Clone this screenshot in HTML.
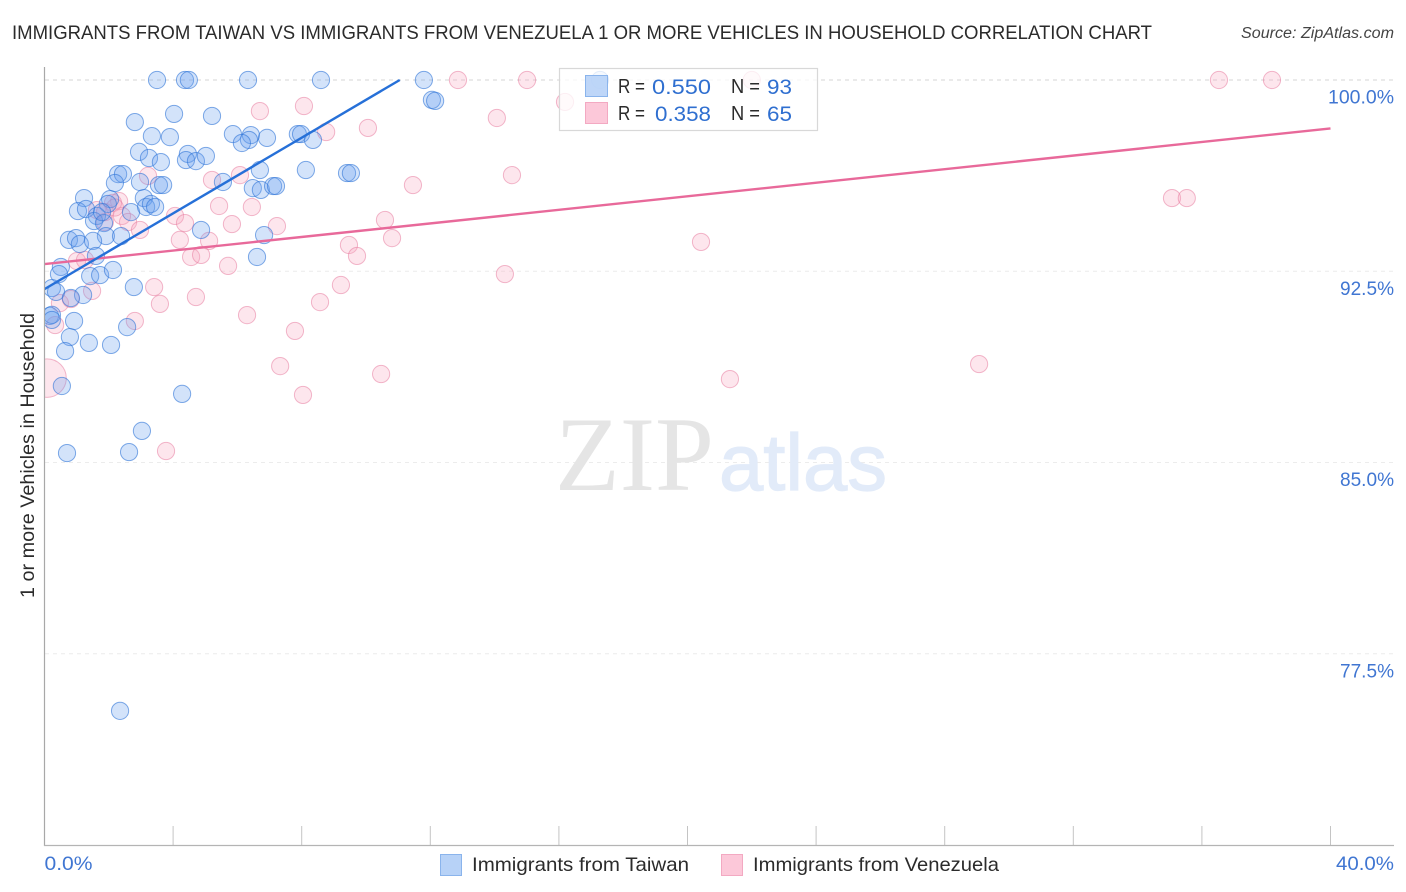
<!DOCTYPE html>
<html lang="en">
<head>
<meta charset="utf-8">
<title>Immigrants from Taiwan vs Immigrants from Venezuela 1 or more Vehicles in Household Correlation Chart</title>
<style>
html,body{margin:0;padding:0;background:#fff;width:1406px;height:892px;overflow:hidden}
svg{display:block;font-family:"Liberation Sans",sans-serif}
.tick-label{font-size:19px;fill:#4076d2}
.legend-text{font-size:20px;fill:#2b2b2b}
.legend-val{font-size:21.5px;fill:#2f6fd0}
.bottom-text{font-size:19.5px;fill:#2b2b2b}
</style>
</head>
<body>
<svg id="chart" xmlns="http://www.w3.org/2000/svg" width="1406" height="892" viewBox="0 0 1406 892">
  <defs>
    <clipPath id="plot-clip"><rect x="45" y="60" width="1350" height="786"></rect></clipPath>
    <filter id="soft" x="-5%" y="-5%" width="110%" height="110%"><feGaussianBlur stdDeviation="0.3"></feGaussianBlur></filter>
  </defs>
  <text x="12" y="39" font-size="19.5" fill="#2b2b2b" textLength="1140" lengthAdjust="spacingAndGlyphs">IMMIGRANTS FROM TAIWAN VS IMMIGRANTS FROM VENEZUELA 1 OR MORE VEHICLES IN HOUSEHOLD CORRELATION CHART</text>
  <text x="1394" y="38" font-size="15.5" font-style="italic" fill="#444" text-anchor="end" textLength="153" lengthAdjust="spacingAndGlyphs">Source: ZipAtlas.com</text>

  <g id="grid"></g>

  <g>
    <text x="555" y="490" font-family="'Liberation Serif',serif" font-size="106" fill="#e5e5e5" textLength="159" lengthAdjust="spacingAndGlyphs">ZIP</text>
    <text x="719" y="490" font-size="80" fill="#e2ebf9" stroke="#e2ebf9" stroke-width="1.2" textLength="168" lengthAdjust="spacingAndGlyphs">atlas</text>
  </g>

  <g clip-path="url(#plot-clip)">
    <g id="points-venezuela" filter="url(#soft)"></g>
    <g id="points-taiwan" filter="url(#soft)"></g>
  </g>
  <g id="trends"></g>

  <g id="axes"></g>
  <g id="tick-labels"></g>

  <text transform="translate(34,598) rotate(-90)" font-size="19.5" fill="#2b2b2b" textLength="285" lengthAdjust="spacingAndGlyphs">1 or more Vehicles in Household</text>

  <g>
    <rect x="559.5" y="68.5" width="258" height="62" fill="#fff" fill-opacity="0.78" stroke="#d8d8d8" stroke-width="1.2"></rect>
    <rect x="585.5" y="75.5" width="22" height="21" fill="#b7d2f7" fill-opacity="0.9" stroke="#8ab4ec"></rect>
    <rect x="585.5" y="102.5" width="22" height="21" fill="#fcc8d9" stroke="#f3a9c2"></rect>
    <text class="legend-text" x="618" y="93" textLength="27" lengthAdjust="spacingAndGlyphs">R =</text>
    <text class="legend-val" x="652" y="94" textLength="59" lengthAdjust="spacingAndGlyphs">0.550</text>
    <text class="legend-text" x="731" y="93" textLength="29" lengthAdjust="spacingAndGlyphs">N =</text>
    <text class="legend-val" x="767" y="94" textLength="25" lengthAdjust="spacingAndGlyphs">93</text>
    <text class="legend-text" x="618" y="120" textLength="27" lengthAdjust="spacingAndGlyphs">R =</text>
    <text class="legend-val" x="655" y="121" textLength="56" lengthAdjust="spacingAndGlyphs">0.358</text>
    <text class="legend-text" x="731" y="120" textLength="29" lengthAdjust="spacingAndGlyphs">N =</text>
    <text class="legend-val" x="767" y="121" textLength="25" lengthAdjust="spacingAndGlyphs">65</text>
  </g>

  <g>
    <rect x="440.5" y="854.5" width="21" height="21" fill="#b7d2f7" stroke="#8ab4ec"></rect>
    <text class="bottom-text" x="472" y="871" textLength="217" lengthAdjust="spacingAndGlyphs">Immigrants from Taiwan</text>
    <rect x="721.5" y="854.5" width="21" height="21" fill="#fcc8d9" stroke="#f3a9c2"></rect>
    <text class="bottom-text" x="753" y="871" textLength="246" lengthAdjust="spacingAndGlyphs">Immigrants from Venezuela</text>
  </g>
</svg>

<script>
const yTickValues = [100, 92.5, 85, 77.5];
const yTickLabels = ["100.0%", "92.5%", "85.0%", "77.5%"];
const xTickValues = [0, 4, 8, 12, 16, 20, 24, 28, 32, 36, 40];
const xEndValues = [0, 40];
const xEndLabels = ["0.0%", "40.0%"];

const taiwanX = [3.50,4.37,4.49,6.33,8.60,11.80,4.03,2.81,5.21,5.86,6.42,6.36,6.14,6.92,7.88,7.98,8.35,3.34,3.90,2.94,3.25,3.62,4.46,4.40,4.71,5.02,2.29,2.44,2.19,2.97,3.56,3.69,5.55,6.70,8.13,9.41,9.53,6.48,6.73,7.11,7.20,1.23,1.04,1.29,2.04,1.97,1.63,1.54,1.85,2.69,3.09,3.16,3.31,3.44,1.91,2.38,4.87,6.83,0.76,0.98,1.10,1.51,1.60,6.61,0.51,0.45,1.42,1.73,2.13,2.78,0.23,0.36,1.20,0.82,0.17,0.23,0.23,0.92,0.79,0.64,1.38,2.07,2.57,0.54,4.28,3.03,0.70,2.63,2.35,12.05,12.15,1.79,17.28];
const taiwanY = [100,100,100,100,100,100,98.67,98.35,98.59,97.88,97.84,97.65,97.53,97.73,97.88,97.88,97.65,97.80,97.76,97.18,96.94,96.78,97.10,96.86,96.82,97.02,96.31,96.31,95.96,96.00,95.88,95.88,96.00,96.47,96.47,96.35,96.35,95.76,95.69,95.84,95.84,95.37,94.86,94.94,95.33,95.14,94.67,94.47,94.39,94.82,95.37,95.02,95.14,95.02,93.88,93.88,94.12,93.92,93.73,93.80,93.57,93.69,93.10,93.06,92.67,92.39,92.31,92.35,92.55,91.88,91.84,91.69,91.57,91.45,90.75,90.79,90.59,90.55,89.92,89.37,89.69,89.61,90.31,88.00,87.69,86.24,85.37,85.41,75.26,99.22,99.18,94.82,100];

const venezuelaX = [0.08,12.86,15.01,22.00,36.53,38.18,6.70,8.07,8.76,10.06,14.07,16.19,5.21,6.08,3.22,5.43,6.45,2.32,2.13,1.63,1.88,2.41,2.60,2.97,4.06,4.37,5.83,7.23,4.21,5.12,4.56,4.87,5.71,1.01,1.26,1.48,0.48,0.82,3.41,3.59,4.71,6.30,7.79,8.57,9.22,2.81,0.33,7.33,8.04,3.78,9.47,9.72,10.59,10.81,11.46,14.54,14.32,20.42,21.32,29.07,10.47,35.07,35.53,1.88,2.19];
const venezuelaY = [88.31,100,100,100,100,100,98.78,98.98,97.96,98.12,98.51,99.14,96.08,96.27,96.24,95.06,95.02,95.25,95.18,94.90,94.43,94.67,94.43,94.12,94.67,94.39,94.35,94.27,93.73,93.69,93.06,93.14,92.71,92.90,92.94,91.73,91.25,91.41,91.88,91.22,91.49,90.78,90.16,91.29,91.96,90.55,90.39,88.78,87.65,85.45,93.53,93.10,94.51,93.80,95.88,96.27,92.39,93.65,88.27,88.86,88.47,95.37,95.37,94.82,95.00];
const venezuelaWeights = [5];

const taiwanTrendX = [0, 11.05];
const taiwanTrendY = [91.8, 100];
const venezuelaTrendX = [0, 40];
const venezuelaTrendY = [92.78, 98.1];

const NS = "http://www.w3.org/2000/svg";
function xScale(v) { return 44.5 + v * 32.15; }
function yScale(v) { return 80 + (100 - v) * 25.5; }
function make(tag, parentId) {
  const el = document.createElementNS(NS, tag);
  document.getElementById(parentId).appendChild(el);
  return el;
}

yTickValues.forEach(function (v, i) {
  const line = make("line", "grid");
  
  
  line.setAttribute("x1", 45);
  line.setAttribute("x2", 1393);
  line.setAttribute("y1", yScale(v));
  line.setAttribute("y2", yScale(v));
  line.setAttribute("stroke", i === 0 ? "#d4d4d4" : "#ececec");
  line.setAttribute("stroke-width", 1);
  line.setAttribute("stroke-dasharray", "4 4");

  const label = make("text", "tick-labels");
  
  
  label.setAttribute("class", "tick-label");
  label.setAttribute("x", 1394);
  label.setAttribute("y", yScale(v) + 23.5);
  label.setAttribute("text-anchor", "end");
  label.setAttribute("textLength", yTickLabels[i].length === 6 ? 66 : 54);
  label.setAttribute("lengthAdjust", "spacingAndGlyphs");
  label.textContent = yTickLabels[i];
});

xTickValues.forEach(function (v) {
  const tick = make("line", "axes");
  
  
  tick.setAttribute("x1", xScale(v));
  tick.setAttribute("x2", xScale(v));
  tick.setAttribute("y1", 826);
  tick.setAttribute("y2", 846);
  tick.setAttribute("stroke", "#c4c4c4");
  tick.setAttribute("stroke-width", 1);
});

const yAxisLine = make("line", "axes");


yAxisLine.setAttribute("x1", 44.5);
yAxisLine.setAttribute("x2", 44.5);
yAxisLine.setAttribute("y1", 67);
yAxisLine.setAttribute("y2", 846);
yAxisLine.setAttribute("stroke", "#a8a8a8");
yAxisLine.setAttribute("stroke-width", 1.2);

const xAxisLine = make("line", "axes");


xAxisLine.setAttribute("x1", 44);
xAxisLine.setAttribute("x2", 1394);
xAxisLine.setAttribute("y1", 845.5);
xAxisLine.setAttribute("y2", 845.5);
xAxisLine.setAttribute("stroke", "#b4b4b4");
xAxisLine.setAttribute("stroke-width", 1.2);

xEndValues.forEach(function (v, i) {
  const label = make("text", "tick-labels");
  
  
  label.setAttribute("class", "tick-label");
  label.setAttribute("x", i === 0 ? xScale(v) : 1394);
  label.setAttribute("y", 870);
  label.setAttribute("text-anchor", i === 0 ? "start" : "end");
  label.setAttribute("textLength", i === 0 ? 48 : 58);
  label.setAttribute("lengthAdjust", "spacingAndGlyphs");
  label.textContent = xEndLabels[i];
});

venezuelaX.forEach(function (v, i) {
  const c = make("circle", "points-venezuela");
  
  
  c.setAttribute("cx", xScale(v));
  c.setAttribute("cy", yScale(venezuelaY[i]));
  c.setAttribute("r", 8.6 * Math.sqrt(venezuelaWeights[i] || 1));
  c.setAttribute("fill", "rgba(248,165,192,0.28)");
  c.setAttribute("stroke", "rgba(232,125,160,0.55)");
  c.setAttribute("stroke-width", 1);
});

taiwanX.forEach(function (v, i) {
  const c = make("circle", "points-taiwan");
  
  
  c.setAttribute("cx", xScale(v));
  c.setAttribute("cy", yScale(taiwanY[i]));
  c.setAttribute("r", 8.6);
  c.setAttribute("fill", "rgba(105,160,238,0.29)");
  c.setAttribute("stroke", "rgba(45,115,215,0.6)");
  c.setAttribute("stroke-width", 1);
});

const pinkTrend = make("line", "trends");


pinkTrend.setAttribute("x1", xScale(venezuelaTrendX[0]));
pinkTrend.setAttribute("y1", yScale(venezuelaTrendY[0]));
pinkTrend.setAttribute("x2", xScale(venezuelaTrendX[1]));
pinkTrend.setAttribute("y2", yScale(venezuelaTrendY[1]));
pinkTrend.setAttribute("stroke", "#e8699a");
pinkTrend.setAttribute("stroke-width", 2.4);

const blueTrend = make("line", "trends");


blueTrend.setAttribute("x1", xScale(taiwanTrendX[0]));
blueTrend.setAttribute("y1", yScale(taiwanTrendY[0]));
blueTrend.setAttribute("x2", xScale(taiwanTrendX[1]));
blueTrend.setAttribute("y2", yScale(taiwanTrendY[1]));
blueTrend.setAttribute("stroke", "#2670d8");
blueTrend.setAttribute("stroke-width", 2.4);
</script>
</body>
</html>
